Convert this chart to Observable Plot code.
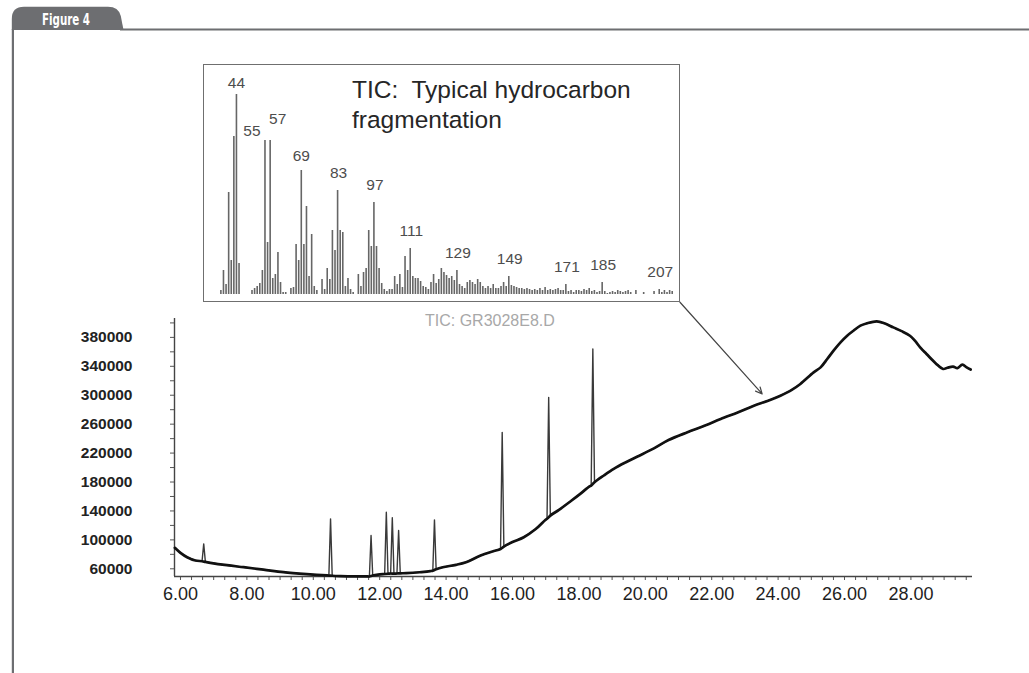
<!DOCTYPE html>
<html>
<head>
<meta charset="utf-8">
<script src="https://cdn.jsdelivr.net/npm/d3@7"></script>
<script src="https://cdn.jsdelivr.net/npm/@observablehq/plot@0.6"></script>
<style>
  html, body { margin: 0; padding: 0; background: #fff; }
  body { width: 1029px; height: 673px; position: relative; overflow: hidden;
         font-family: "Liberation Sans", Arial, sans-serif; }
  #main { position: absolute; left: 0; top: 0; }
  #main svg { background: transparent; overflow: visible; }
  #frameSvg { position: absolute; left: 0; top: 0; }
  #insetBox { position: absolute; left: 203px; top: 64.3px; width: 477px; height: 238px;
              box-sizing: border-box; border: 1.5px solid #6f6f6f; background: #fff; }
  #inset { position: absolute; left: 203px; top: 64.3px; }
  #inset svg { background: transparent; overflow: visible; }
  #insetTitle { position: absolute; left: 352px; top: 75px; font-size: 24.5px; line-height: 30px;
                color: #262626; white-space: pre; }
  #ticTitle { position: absolute; left: 425px; top: 312.5px; font-size: 16px; line-height: 16px;
              color: #a8a8a8; white-space: pre; }
</style>
</head>
<body>
<div id="main"></div>
<svg id="frameSvg" width="1029" height="673">
  <path d="M11.8,30 V19 Q11.8,6.8 24,6.8 H108 Q118.5,6.8 120.8,16 L123.5,30 Z" fill="#6d6e71"/>
  <line x1="120" y1="29.5" x2="1029" y2="29.5" stroke="#6d6e71" stroke-width="2.2"/>
  <line x1="12.9" y1="29" x2="12.9" y2="673" stroke="#6d6e71" stroke-width="2.2"/>
  <text x="42" y="24.5" fill="#fff" font-family="'Liberation Sans Narrow','DejaVu Sans Condensed',sans-serif"
        font-weight="bold" font-size="16" textLength="48" lengthAdjust="spacingAndGlyphs">Figure 4</text>
</svg>
<div id="insetBox"></div>
<div id="inset"></div>
<div id="insetTitle">TIC:  Typical hydrocarbon
fragmentation</div>
<div id="ticTitle">TIC: GR3028E8.D</div>
<script>
// ---------- Chromatogram (TIC) data ----------
// Baseline of the trace: retention time (min) and abundance
const baseTime = [5.83, 6.0, 6.2, 6.45, 6.9, 7.4, 7.9, 8.5, 9.1, 9.8, 10.42, 10.8, 11.2, 11.64,
  11.95, 12.29, 12.475, 12.8, 13.2, 13.55, 13.9, 14.3, 14.6, 15.04, 15.4, 16.0, 16.34, 16.7, 16.99,
  17.4, 17.75, 18.05, 18.32, 18.75, 19.05, 19.4, 19.75, 20.26, 20.7, 21.27, 21.8, 22.27, 22.8,
  23.27, 23.7, 24.07, 24.4, 24.67, 25.07, 25.28, 25.48, 25.67, 25.88, 26.08, 26.27, 26.48, 26.67,
  26.97, 27.2, 27.47, 27.72, 27.97, 28.12, 28.3, 28.47, 28.75, 28.97, 29.1, 29.27, 29.4, 29.55,
  29.68, 29.8];
const baseValue = [89000, 82000, 76000, 71500, 68300, 65000, 62200, 58800, 55300, 52600, 50800,
  50000, 49500, 49400, 52000, 53400, 53400, 54000, 55200, 57000, 62200, 65500, 69100, 78400, 84000,
  97000, 103700, 115000, 127500, 141500, 153400, 164000, 174000, 189000, 198200, 207000, 215000,
  226500, 238000, 248800, 258000, 267200, 276500, 285600, 292500, 299400, 307000, 315600, 331600,
  338500, 350100, 361600, 373100, 382300, 389200, 396200, 399300, 402100, 399500, 393800, 388600,
  382300, 375400, 365000, 357000, 344000, 336300, 338000, 339500, 337500, 342300, 338500, 335500];

// Sharp peaks: apex time, apex abundance, abundance at left and right foot
const peakTime  = [6.70, 10.52, 11.74, 12.20, 12.38, 12.57, 13.65, 15.69, 17.09, 18.42];
const peakTop   = [94500, 129100, 106000, 138200, 130500, 112900, 127700, 248700, 297100, 364000];
const peakFootL = [70500, 50700, 49400, 52800, 53500, 53500, 57300, 87400, 129100, 175100];
const peakFootR = [69500, 50400, 50800, 53200, 53300, 53800, 59500, 90800, 133600, 179700];

// Axis tick labels
const xTickLabels = [6, 8, 10, 12, 14, 16, 18, 20, 22, 24, 26, 28];
const yTickLabels = [60000, 100000, 140000, 180000, 220000, 260000, 300000, 340000, 380000];

// Callout arrow from inset corner to the trace
const callout = [{t1: 21.045, v1: 428600, t2: 23.52, v2: 301800}];

// ---------- Inset mass spectrum data ----------
const specMz = [38,39,40,41,42,43,44,45,50,51,52,53,54,55,56,57,58,59,60,61,62,63,65,66,67,68,69,70,
  71,72,73,74,75,77,78,79,80,81,82,83,84,85,86,87,88,89,91,92,93,94,95,96,97,98,99,100,101,102,103,
  104,105,106,107,108,109,110,111,112,113,114,115,116,117,118,119,120,121,122,123,124,125,126,127,
  128,129,130,131,132,133,134,135,136,137,138,139,140,141,142,143,144,145,146,147,148,149,150,151,
  152,153,154,155,156,157,158,159,160,161,162,163,164,165,166,167,168,169,170,171,172,173,174,175,
  176,177,178,179,180,181,182,183,184,185,186,187,188,189,190,191,192,193,194,195,196,198,201,205,
  207,208,209,210,211,212];
const specInt = [2,12,5,51,17,79,100,15.5,2,3,4,5.5,12,77,26,77,8,10,21,6,1,1,3,3.5,25,17,62,25,
  44,9,30,4,2,7.5,2.5,13,7.5,32,22,52,32,31,4,8,2.5,1,10,4,11,13,32,24,46,24,13,5.5,2.5,1.5,2.5,
  2.5,9,5,10,3.5,19,12,23,9,8,8,6.5,4,3.5,2.5,6,10,5.5,7.5,13,11,9.5,8,9,7,12,5,4,3,6,7,6,5,7.5,6,
  4,3,4,3,5,3,3,4,6,4,9,4.5,4,3.5,3,3,2.5,3,2.5,2,2.5,2,3,2,3.5,2,2.5,2,2.5,3,2,2,5,1.5,2,1,2,
  2,1.5,2.5,2,3,1.5,2,1,1.5,6,1.5,0.5,1,1.5,1,2,1.5,1,1.5,2,1,2,1,1.5,2.5,1,2,1,2,1.5];
const specLabels = [44, 55, 57, 69, 83, 97, 111, 129, 149, 171, 185, 207];

// ---------- Build tables ----------
const halfW = 0.05;
const inPeak = t => peakTime.some(p => Math.abs(t - p) <= halfW + 1e-9);
const base = baseTime.map((t, i) => ({t, v: baseValue[i]})).filter(d => !inPeak(d.t));
const feet = [], apexes = [];
peakTime.forEach((p, i) => {
  feet.push({t: p - halfW, v: peakFootL[i]}, {t: p + halfW, v: peakFootR[i]});
  apexes.push({t: p, v: peakTop[i]});
});
const trace = [...base, ...feet, ...apexes].sort((a, b) => a.t - b.t);
const baseTrace = [...base, ...feet].sort((a, b) => a.t - b.t);

const xDom = [5.82, 29.855], yDom = [49360, 406100];
const minorX = d3.range(0, 72).map(k => 6 + k / 3);
const minorY = d3.range(60000, 400001, 20000);

const main = Plot.plot({
  width: 1029, height: 673,
  marginLeft: 174, marginRight: 57, marginTop: 318, marginBottom: 97,
  x: {domain: xDom, label: null},
  y: {domain: yDom, label: null},
  style: {background: "transparent", overflow: "visible", fontFamily: "'Liberation Sans', Arial, sans-serif"},
  marks: [
    Plot.axisX({ticks: minorX, tickSize: 4, tickFormat: () => "", stroke: "#555", label: null}),
    Plot.axisX({ticks: xTickLabels, tickSize: 0, tickPadding: 10.5, tickFormat: d => d.toFixed(2),
                fontSize: 18, fill: "#1e1e1e", label: null}),
    Plot.axisY({ticks: minorY, tickSize: 4, tickFormat: () => "", stroke: "#555", label: null}),
    Plot.axisY({ticks: yTickLabels, tickSize: 0, tickPadding: 42, tickFormat: d => String(d),
                fontSize: 15.5, fontWeight: "bold", fill: "#222", label: null}),
    Plot.ruleX([xDom[0]], {stroke: "#444", strokeWidth: 1.4}),
    Plot.ruleY([yDom[0]], {stroke: "#444", strokeWidth: 1.4}),
    Plot.line(trace, {x: "t", y: "v", stroke: "#3a3a3a", strokeWidth: 1.4}),
    Plot.line(baseTrace, {x: "t", y: "v", stroke: "#111", strokeWidth: 2.7, strokeLinejoin: "round",
                          curve: "catmull-rom"}),
    Plot.arrow(callout, {x1: "t1", y1: "v1", x2: "t2", y2: "v2", stroke: "#444", strokeWidth: 1.2,
                         headLength: 9, headAngle: 50})
  ]
});
document.getElementById("main").append(main);

// ---------- Inset ----------
const spectrum = specMz.map((mz, i) => ({mz, intensity: specInt[i]}));
const intensityOf = mz => (spectrum.find(d => d.mz === mz) || {intensity: 0}).intensity;
const labelOffsets = {44: [0, -11], 55: [-13, -9], 57: [7.5, -21], 69: [0, -14]};
const labelMarks = specLabels.map(mz => {
  const [dx, dy] = labelOffsets[mz] || [1, -17];
  return Plot.text([{mz, intensity: intensityOf(mz)}], {
    x: "mz", y: "intensity", text: d => String(d.mz), dx, dy,
    fontSize: 15.5, fill: "#4d4d4d"
  });
});
const inset = Plot.plot({
  width: 477, height: 238,
  marginLeft: 0, marginRight: 0, marginTop: 30, marginBottom: 8,
  x: {domain: [31.3, 215.2], axis: null},
  y: {domain: [0, 100], axis: null},
  style: {background: "transparent", overflow: "visible", fontFamily: "'Liberation Sans', Arial, sans-serif"},
  marks: [
    Plot.ruleX(spectrum, {x: "mz", y1: 0, y2: "intensity", stroke: "#666", strokeWidth: 1.6}),
    ...labelMarks
  ]
});
document.getElementById("inset").append(inset);
</script>
</body>
</html>
